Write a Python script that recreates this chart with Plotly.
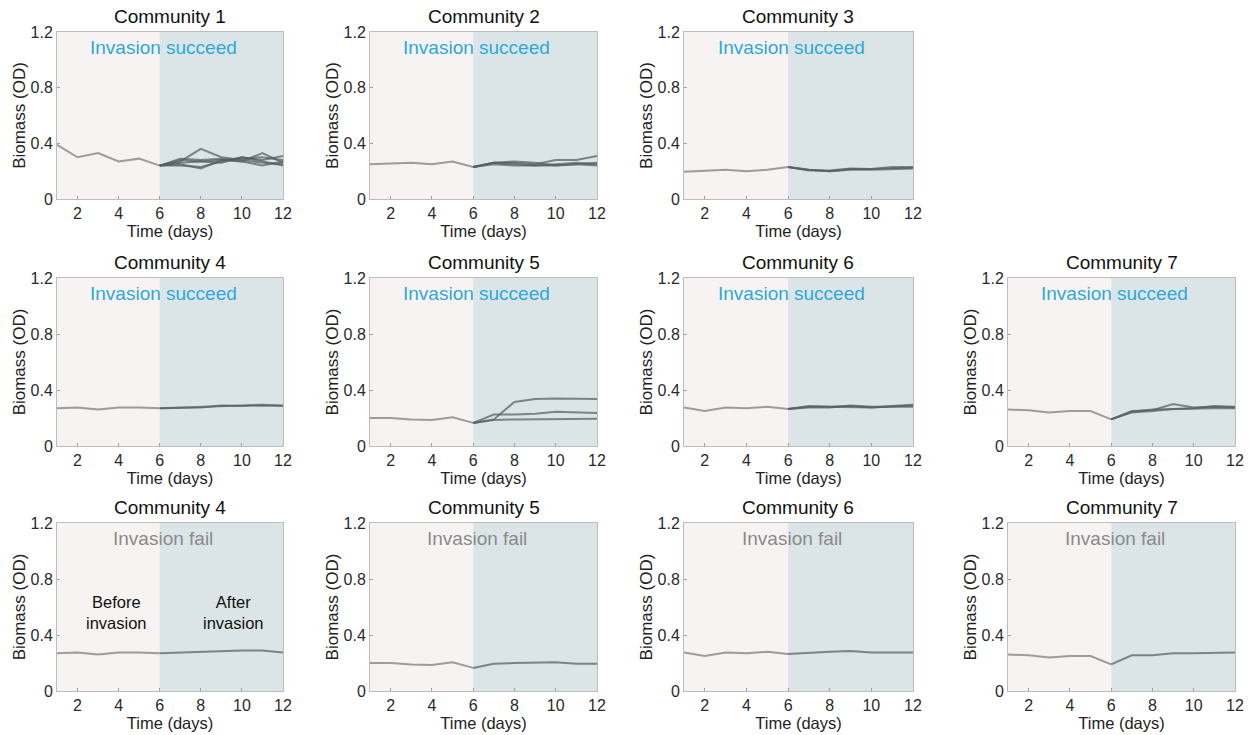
import plotly.graph_objects as go

# Sampling days
days_pre = [1, 2, 3, 4, 5, 6]
days_post = [6, 7, 8, 9, 10, 11, 12]
invasion_day = 6
y_ticks = [0, 0.4, 0.8, 1.2]
x_ticks = [2, 4, 6, 8, 10, 12]

# Biomass (OD) before invasion, per community
pre_c1 = [0.39, 0.30, 0.33, 0.27, 0.29, 0.24]
pre_c2 = [0.25, 0.255, 0.26, 0.25, 0.27, 0.23]
pre_c3 = [0.195, 0.20, 0.21, 0.20, 0.21, 0.23]
pre_c4 = [0.27, 0.275, 0.26, 0.275, 0.275, 0.27]
pre_c5 = [0.20, 0.20, 0.19, 0.185, 0.205, 0.165]
pre_c6 = [0.275, 0.25, 0.275, 0.27, 0.28, 0.265]
pre_c7 = [0.26, 0.255, 0.24, 0.25, 0.25, 0.19]

# Biomass (OD) after successful invasion (replicates)
post_c1 = [
    [0.24, 0.27, 0.36, 0.30, 0.28, 0.26, 0.25],
    [0.24, 0.29, 0.28, 0.29, 0.27, 0.33, 0.26],
    [0.24, 0.24, 0.23, 0.27, 0.30, 0.28, 0.31],
    [0.24, 0.26, 0.27, 0.28, 0.29, 0.30, 0.28],
    [0.24, 0.25, 0.22, 0.28, 0.27, 0.24, 0.27],
    [0.24, 0.28, 0.27, 0.26, 0.30, 0.27, 0.24],
]
post_c2 = [
    [0.23, 0.26, 0.26, 0.25, 0.28, 0.28, 0.31],
    [0.23, 0.26, 0.25, 0.24, 0.25, 0.26, 0.25],
    [0.23, 0.25, 0.24, 0.24, 0.24, 0.25, 0.24],
    [0.23, 0.26, 0.27, 0.26, 0.24, 0.25, 0.26],
]
post_c3 = [
    [0.23, 0.21, 0.20, 0.215, 0.215, 0.22, 0.225],
    [0.23, 0.205, 0.205, 0.22, 0.215, 0.23, 0.23],
    [0.23, 0.21, 0.20, 0.21, 0.21, 0.215, 0.22],
]
post_c4 = [
    [0.27, 0.27, 0.275, 0.29, 0.285, 0.29, 0.285],
    [0.27, 0.275, 0.28, 0.285, 0.29, 0.295, 0.29],
]
post_c5 = [
    [0.165, 0.19, 0.315, 0.335, 0.34, 0.34, 0.335],
    [0.165, 0.225, 0.225, 0.23, 0.245, 0.24, 0.235],
    [0.165, 0.185, 0.19, 0.19, 0.195, 0.195, 0.195],
]
post_c6 = [
    [0.265, 0.28, 0.28, 0.285, 0.275, 0.28, 0.29],
    [0.265, 0.275, 0.275, 0.29, 0.28, 0.28, 0.28],
    [0.265, 0.285, 0.28, 0.28, 0.275, 0.285, 0.295],
]
post_c7 = [
    [0.19, 0.25, 0.255, 0.30, 0.275, 0.28, 0.275],
    [0.19, 0.24, 0.25, 0.265, 0.27, 0.285, 0.28],
    [0.19, 0.245, 0.26, 0.265, 0.265, 0.27, 0.27],
]

# Biomass (OD) after failed invasion
fail_c4 = [[0.27, 0.275, 0.28, 0.29, 0.29, 0.29, 0.275]]
fail_c5 = [[0.165, 0.195, 0.20, 0.20, 0.205, 0.195, 0.195]]
fail_c6 = [[0.265, 0.275, 0.28, 0.285, 0.275, 0.275, 0.275]]
fail_c7 = [[0.19, 0.255, 0.255, 0.27, 0.27, 0.27, 0.275]]

# (row, col, title, outcome, pre, post)
panels = [
    (0, 0, "Community 1", "succeed", pre_c1, post_c1),
    (0, 1, "Community 2", "succeed", pre_c2, post_c2),
    (0, 2, "Community 3", "succeed", pre_c3, post_c3),
    (1, 0, "Community 4", "succeed", pre_c4, post_c4),
    (1, 1, "Community 5", "succeed", pre_c5, post_c5),
    (1, 2, "Community 6", "succeed", pre_c6, post_c6),
    (1, 3, "Community 7", "succeed", pre_c7, post_c7),
    (2, 0, "Community 4", "fail", pre_c4, fail_c4),
    (2, 1, "Community 5", "fail", pre_c5, fail_c5),
    (2, 2, "Community 6", "fail", pre_c6, fail_c6),
    (2, 3, "Community 7", "fail", pre_c7, fail_c7),
]

W, H = 1252, 735
col_px = [(57, 283), (370, 597), (684, 913), (1008, 1235)]
row_px = [(32, 199), (278, 446), (523, 691)]

FONT = "Liberation Sans, Arial, sans-serif"
PRE_BG = "#f7f3f2"
POST_BG = "#dbe5e8"
PRE_LINE = "#9c9c9c"
POST_LINE = "rgba(85,94,98,0.72)"
SUCCEED_COL = "#2ea9d9"
FAIL_COL = "#8a8a8a"

fig = go.Figure()
shapes, annotations = [], []
layout_axes = {}

for i, (r, c, title, outcome, pre, post) in enumerate(panels):
    n = i + 1
    xa = "x" if n == 1 else f"x{n}"
    ya = "y" if n == 1 else f"y{n}"
    x0, x1 = col_px[c]
    t, b = row_px[r]
    xdom = [x0 / W, x1 / W]
    ydom = [1 - b / H, 1 - t / H]

    axis_common = dict(
        showgrid=False, zeroline=False, showline=True, mirror=True, automargin=False,
        linecolor="#bdbdbd", linewidth=1, ticks="inside", ticklen=3,
        tickcolor="#a0a0a0", tickfont=dict(family=FONT, size=16, color="#2a2a2a"),
    )
    layout_axes["xaxis" if n == 1 else f"xaxis{n}"] = dict(
        axis_common, domain=xdom, anchor=ya, range=[days_pre[0], days_post[-1]],
        tickvals=x_ticks, title=dict(text="Time (days)", standoff=0,
                                     font=dict(family=FONT, size=16.5, color="#222222")),
    )
    layout_axes["yaxis" if n == 1 else f"yaxis{n}"] = dict(
        axis_common, domain=ydom, anchor=xa, range=[0, 1.2],
        tickvals=y_ticks, ticktext=["0", "0.4", "0.8", "1.2"],
        title=dict(text="Biomass (OD)", standoff=0,
                   font=dict(family=FONT, size=17, color="#222222")),
    )

    # before / after invasion shading
    shapes.append(dict(type="rect", xref=xa, yref=f"{ya} domain", x0=days_pre[0], x1=invasion_day,
                       y0=0, y1=1, fillcolor=PRE_BG, line_width=0, layer="below"))
    shapes.append(dict(type="rect", xref=xa, yref=f"{ya} domain", x0=invasion_day, x1=days_post[-1],
                       y0=0, y1=1, fillcolor=POST_BG, line_width=0, layer="below"))

    fig.add_trace(go.Scatter(x=days_pre, y=pre, mode="lines", xaxis=xa, yaxis=ya,
                             line=dict(color=PRE_LINE, width=2), showlegend=False, hoverinfo="skip"))
    for rep in post:
        fig.add_trace(go.Scatter(x=days_post, y=rep, mode="lines", xaxis=xa, yaxis=ya,
                                 line=dict(color=POST_LINE, width=2), showlegend=False,
                                 hoverinfo="skip"))

    # panel title
    annotations.append(dict(text=title, xref="paper", yref="paper",
                            x=(xdom[0] + xdom[1]) / 2, y=ydom[1], yshift=3,
                            xanchor="center", yanchor="bottom", showarrow=False,
                            font=dict(family=FONT, size=19, color="#111111")))
    # outcome label
    label = "Invasion succeed" if outcome == "succeed" else "Invasion fail"
    annotations.append(dict(text=label, xref=f"{xa} domain", yref=f"{ya} domain",
                            x=0.47, y=0.91, xanchor="center", yanchor="middle", showarrow=False,
                            font=dict(family=FONT, size=19,
                                      color=SUCCEED_COL if outcome == "succeed" else FAIL_COL)))

    if n == 8:
        annotations.append(dict(text="Before<br>invasion", xref=xa, yref=ya, x=3.9, y=0.56,
                                showarrow=False, font=dict(family=FONT, size=16.5, color="#111111")))
        annotations.append(dict(text="After<br>invasion", xref=xa, yref=ya, x=9.6, y=0.56,
                                showarrow=False, font=dict(family=FONT, size=16.5, color="#111111")))

fig.update_layout(
    width=W, height=H, margin=dict(l=0, r=0, t=0, b=0, autoexpand=False),
    paper_bgcolor="white", plot_bgcolor="rgba(0,0,0,0)",
    shapes=shapes, annotations=annotations, showlegend=False,
    **layout_axes,
)

fig.write_html("out.html")
